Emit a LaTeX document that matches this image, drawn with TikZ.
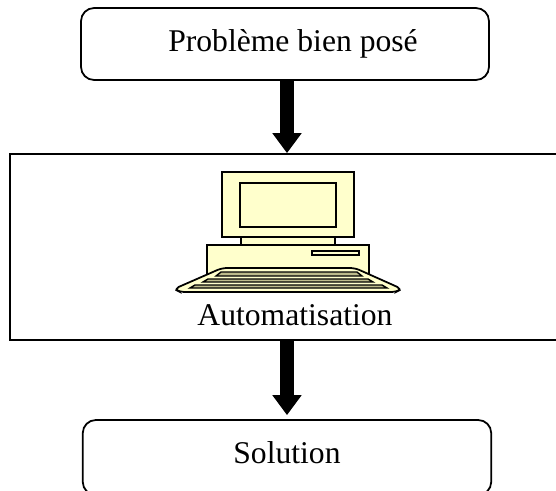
\documentclass[tikz,border=0pt]{standalone}
\usepackage{fontspec}
\setmainfont{Liberation Serif}
\usetikzlibrary{arrows.meta}

\definecolor{creme}{HTML}{FFFFCC}
\definecolor{touche}{HTML}{BDBB8C}

\tikzset{
	boite/.style={shape=rectangle,draw=black,line width=1pt,rounded corners=0.26cm,align=center,font=\fontsize{18}{20}\selectfont},
	cadre/.style={shape=rectangle,draw=black,line width=1pt,minimum width=11.2cm,minimum height=3.72cm},
	texte/.style={anchor=base,inner sep=0pt,font=\fontsize{18}{20}\selectfont},
	fleche/.style={line width=0.28cm,-{Triangle[length=0.4cm,width=0.56cm]}},
	piece/.style={draw=black,line width=1pt,fill=creme},
	rangee/.style={draw=black,line width=0.8pt,fill=touche},
}

\begin{document}
\begin{tikzpicture}[x=0.02cm,y=-0.02cm]
	\useasboundingbox (0,0) rectangle (556,491);
	\clip (0,0) rectangle (556,491);

	\node[boite,minimum width=8.16cm,minimum height=1.44cm] (prob) at (285,44) {\hspace{0.32cm}Problème bien posé};
	\node[cadre] (auto) at (290,247) {};
	\node[boite,minimum width=8.17cm,minimum height=1.5cm,text depth=0.2cm] (sol) at (287,457.5) {Solution};
	\node[texte] (autotexte) at (295,325) {Automatisation};

	\path[fleche] (prob.south -| sol.north) edge (auto.north -| sol.north);
	\path[fleche] (auto.south -| sol.north) edge ([yshift=0.08cm]sol.north);

	% ordinateur
	\draw[piece] (241,237) rectangle (335,245);
	\draw[piece] (222,172) rectangle (354,237);
	\draw[piece] (240,183) rectangle (336,227);
	\draw[piece] (207,245) rectangle (369,275);
	\draw[piece] (312,251) rectangle (359,255);
	\draw[piece,rounded corners=0.1cm] (222,268) -- (355,268) -- (402,289) -- (396,292) -- (180,292) -- (174,289) -- cycle;
	\draw[rangee] (221,272) -- (357,272) -- (362,276) -- (216,276) -- cycle;
	\draw[rangee] (208,279) -- (368,279) -- (373,282) -- (203,282) -- cycle;
	\draw[rangee] (195,285) -- (382,285) -- (387,288) -- (190,288) -- cycle;
\end{tikzpicture}
\end{document}
